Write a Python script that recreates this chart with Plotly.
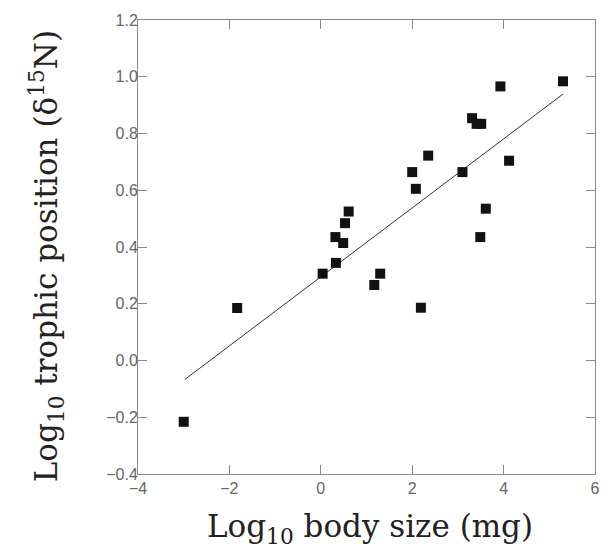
import plotly.graph_objects as go

body_size = [-3.00, -1.83, 0.04, 0.33, 0.32, 0.49, 0.53, 0.61, 1.17, 1.30, 2.19,
             2.00, 2.08, 2.35, 3.10, 3.31, 3.41, 3.51, 3.49, 3.61, 3.93, 4.12, 5.30]
trophic = [-0.216, 0.185, 0.306, 0.344, 0.435, 0.414, 0.484, 0.525, 0.266, 0.306, 0.186,
           0.664, 0.605, 0.722, 0.664, 0.854, 0.834, 0.834, 0.435, 0.535, 0.966, 0.704, 0.984]

fit_x = [-2.98, 5.30]
fit_y = [-0.0675, 0.939]

x_ticks = [-4, -2, 0, 2, 4, 6]
y_ticks = [-0.4, -0.2, 0.0, 0.2, 0.4, 0.6, 0.8, 1.0, 1.2]

fig = go.Figure()
fig.add_trace(go.Scatter(x=fit_x, y=fit_y, mode="lines",
                         line=dict(color="#333333", width=1), showlegend=False))
fig.add_trace(go.Scatter(x=body_size, y=trophic, mode="markers",
                         marker=dict(symbol="square", size=10, color="#111111"),
                         showlegend=False))

axis_common = dict(showgrid=False, zeroline=False, showline=True, linecolor="#8a8a8a",
                   linewidth=1, mirror="ticks", ticks="inside", ticklen=9,
                   tickcolor="#8a8a8a", tickwidth=1,
                   tickfont=dict(family="Liberation Sans, Arial", size=16, color="#666666"))

fig.update_xaxes(range=[-4, 6], tickvals=x_ticks,
                 ticktext=[f"{v:g}".replace("-", "\u2212") for v in x_ticks], **axis_common)
fig.update_yaxes(range=[-0.4, 1.2], tickvals=y_ticks, ticklabelstandoff=-4,
                 ticktext=[f"{v:.1f}".replace("-", "\u2212") for v in y_ticks], **axis_common)

label_font = dict(family="DejaVu Serif, serif", size=31, color="#222222")
fig.add_annotation(text="Log<sub>10</sub> body size (mg)", xref="paper", yref="paper",
                   x=0.508, y=-0.12, xanchor="center", yanchor="middle", showarrow=False,
                   font=label_font)
fig.add_annotation(text="Log<sub>10</sub> trophic position (δ<sup>15</sup>N)", xref="paper",
                   yref="paper", x=-0.201, y=0.48, xanchor="center", yanchor="middle",
                   textangle=-90, showarrow=False, font=label_font)

fig.update_layout(width=612, height=551, margin=dict(l=138, r=12, t=15, b=77),
                  paper_bgcolor="white", plot_bgcolor="white")

fig.write_html("out.html")
